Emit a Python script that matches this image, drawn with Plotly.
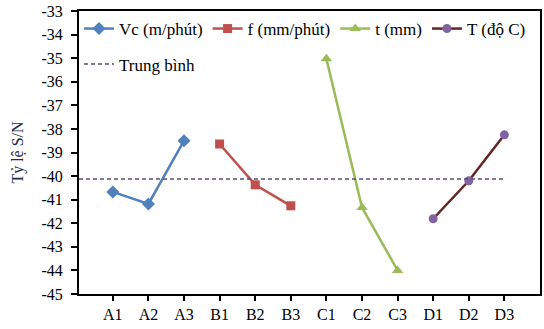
import plotly.graph_objects as go

categories = ["A1", "A2", "A3", "B1", "B2", "B3", "C1", "C2", "C3", "D1", "D2", "D3"]
series_names = ["Vc (m/phút)", "f (mm/phút)", "t (mm)", "T (độ C)"]
vc = [-40.67, -41.18, -38.5]
f_vals = [-38.64, -40.37, -41.26]
t_vals = [-35.03, -41.33, -44.0]
T_vals = [-41.81, -40.2, -38.25]
mean_value = -40.12
y_ticks = list(range(-45, -32))

FONT = "Liberation Serif"
x_range = [-0.95, 12.0]

fig = go.Figure()
styles = [
    dict(line=dict(color="#4F81BD", width=2.5), marker=dict(symbol="diamond", size=10, color="#4F81BD")),
    dict(line=dict(color="#C0504D", width=2.5), marker=dict(symbol="square", size=9, color="#C0504D")),
    dict(line=dict(color="#9BBB59", width=2.5), marker=dict(symbol="triangle-up", size=10, color="#9BBB59")),
    dict(line=dict(color="#632523", width=2.5), marker=dict(symbol="circle", size=9, color="#8064A2")),
]
groups = [vc, f_vals, t_vals, T_vals]
for i, (name, vals, st) in enumerate(zip(series_names, groups, styles)):
    xs = list(range(3 * i, 3 * i + 3))
    fig.add_trace(go.Scatter(x=xs, y=vals, mode="lines+markers", name=name,
                             line=st["line"], marker=st["marker"], legend="legend"))

fig.add_trace(go.Scatter(x=[x_range[0], len(categories) - 1], y=[mean_value, mean_value],
                         mode="lines", name="Trung bình",
                         line=dict(color="#604A7B", width=1.5, dash="4px,3px"),
                         legend="legend2"))

fig.update_layout(
    width=544, height=329,
    margin=dict(l=79, r=2, t=11, b=35),
    paper_bgcolor="white", plot_bgcolor="white",
    font=dict(family=FONT, size=16, color="black"),
    showlegend=True,
    legend=dict(orientation="h", x=0.0, y=1.0, xanchor="left", yanchor="top",
                bgcolor="rgba(0,0,0,0)", font=dict(family=FONT, size=17), itemwidth=30),
    legend2=dict(orientation="h", x=0.0, y=0.875, xanchor="left", yanchor="top",
                 bgcolor="rgba(0,0,0,0)", font=dict(family=FONT, size=17), itemwidth=30),
    xaxis=dict(range=x_range, tickmode="array", tickvals=list(range(len(categories))),
               ticktext=categories, showgrid=False, zeroline=False,
               showline=True, linecolor="black", linewidth=2, mirror=True,
               ticks="outside", ticklen=5, tickwidth=1.5, tickcolor="black",
               tickfont=dict(family=FONT, size=16)),
    yaxis=dict(range=[-45, -33], tickmode="array", tickvals=y_ticks,
               ticktext=[str(v) for v in y_ticks], showgrid=False, zeroline=False,
               showline=True, linecolor="black", linewidth=2, mirror=True,
               ticks="outside", ticklen=6, tickwidth=1.5, tickcolor="black",
               ticklabelstandoff=5,
               tickfont=dict(family=FONT, size=16),
               title=dict(text="Tỷ lệ S/N", font=dict(family=FONT, size=16, color="#1F2D4D"),
                          standoff=14)),
)

fig.write_html("out.html")
